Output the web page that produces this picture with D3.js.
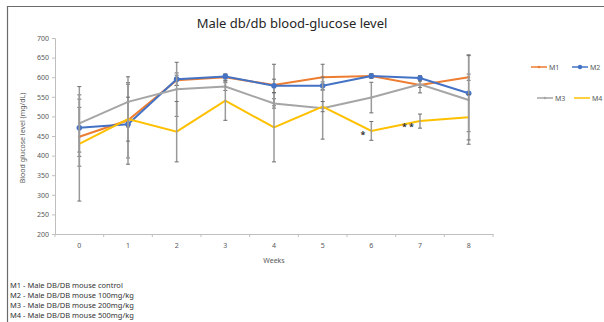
<!DOCTYPE html>
<html>
<head>
<meta charset="utf-8">
<script src="https://cdn.jsdelivr.net/npm/d3@7"></script>
<style>
  body { margin: 0; background: #fff; }
  text { font-family: "Noto Sans", "Noto Sans CJK KR", sans-serif; }
</style>
</head>
<body>
<div id="chart"></div>
<script>
// 주차별 혈당 (Male db/db)
var weeks = ["0", "1", "2", "3", "4", "5", "6", "7", "8"];
var series_names = ["M1", "M2", "M3", "M4"];
var m1_values = [448, 490, 592, 600, 580, 600, 603, 580, 600];
var m2_values = [471, 480, 595, 602, 578, 578, 603, 598, 559];
var m3_values = [482, 537, 569, 576, 533, 521, 548, 582, 542];
var m4_values = [430, 493, 461, 540, 472, 525, 463, 488, 498];
var m1_err = [75, 96, 13, 8, 53, 33, 6, 20, 8];
var m2_err = [73, 102, 16, 6, 17, 10, 5, 6, 98];
var m3_err = [73, 64, 69, 10, 12, 79, 39, 8, 113];
var m4_err = [146, 56, 77, 50, 88, 13, 24, 18, 58];
var y_ticks = [200, 250, 300, 350, 400, 450, 500, 550, 600, 650, 700];
var notes = [
    "M1 - Male DB/DB mouse control",
    "M2 - Male DB/DB mouse 100mg/kg",
    "M3 - Male DB/DB mouse 200mg/kg",
    "M4 - Male DB/DB mouse 500mg/kg"
];
var stars = [{week: "6", value: 452, text: "*"}, {week: "7", value: 474, text: "* *"}];

var colors = {"M1": "#ED7D31", "M2": "#4472C4", "M3": "#A5A5A5", "M4": "#FFC000"};

var series = [
    {name: "M1", values: m1_values, err: m1_err},
    {name: "M2", values: m2_values, err: m2_err},
    {name: "M3", values: m3_values, err: m3_err},
    {name: "M4", values: m4_values, err: m4_err}
];

var svg = d3.select("#chart").append("svg")
    .attr("width", 604)
    .attr("height", 322);

// 바깥 테두리
svg.append("path")
    .attr("d", "M7.5,322 L7.5,6.5 L604,6.5")
    .style("fill", "none")
    .style("stroke", "#6b6b6b")
    .style("stroke-width", 1.2);

svg.append("text")
    .attr("x", 292)
    .attr("y", 28)
    .attr("text-anchor", "middle")
    .style("font-size", "13px")
    .style("fill", "#262626")
    .text("Male db/db blood-glucose level");

var x_band = d3.scaleBand().domain(weeks).range([55, 493]);
var x_scale = function(w) { return x_band(w) + x_band.bandwidth() / 2; };
var y_scale = d3.scaleLinear().domain([200, 700]).range([234, 38]);

// y축
var y_axis = svg.append("g")
    .attr("transform", "translate(55,0)")
    .call(d3.axisLeft(y_scale).tickValues(y_ticks).tickSize(3).tickPadding(3));
y_axis.select(".domain").style("stroke", "#bfbfbf");
y_axis.selectAll(".tick line").style("stroke", "#bfbfbf");
y_axis.selectAll("text").style("font-size", "7px").style("fill", "#595959");

// x축
var x_axis = svg.append("g")
    .attr("transform", "translate(0,234)")
    .call(d3.axisBottom(x_band).tickSize(0).tickPadding(9));
x_axis.select(".domain").style("stroke", "#bfbfbf");
x_axis.selectAll("text").style("font-size", "7px").style("fill", "#595959");

svg.append("g").selectAll("line")
    .data(weeks.concat(["end"]))
    .enter()
    .append("line")
    .attr("x1", function(d, i) { return 55 + i * x_band.step(); })
    .attr("x2", function(d, i) { return 55 + i * x_band.step(); })
    .attr("y1", 234)
    .attr("y2", 237)
    .style("stroke", "#bfbfbf");

svg.append("text")
    .attr("x", 274)
    .attr("y", 263)
    .attr("text-anchor", "middle")
    .style("font-size", "7px")
    .style("fill", "#595959")
    .text("Weeks");

svg.append("text")
    .attr("transform", "translate(25,138) rotate(-90)")
    .attr("text-anchor", "middle")
    .style("font-size", "7px")
    .style("fill", "#595959")
    .text("Blood glucose level (mg/dL)");

var line = d3.line()
    .x(function(d, i) { return x_scale(weeks[i]); })
    .y(function(d) { return y_scale(d); });

var series_group = svg.selectAll(".series")
    .data(series)
    .enter()
    .append("g")
    .classed("series", true);

series_group.append("path")
    .attr("d", function(d) { return line(d.values); })
    .style("fill", "none")
    .style("stroke", function(d) { return colors[d.name]; })
    .style("stroke-width", 2);

// 오차 막대
series_group.each(function(s) {
    var g = d3.select(this);
    var bars = g.selectAll(".err")
        .data(s.values.map(function(v, i) { return {w: weeks[i], v: v, e: s.err[i]}; }))
        .enter()
        .append("g")
        .classed("err", true);
    bars.append("line")
        .attr("x1", function(d) { return x_scale(d.w); })
        .attr("x2", function(d) { return x_scale(d.w); })
        .attr("y1", function(d) { return y_scale(d.v + d.e); })
        .attr("y2", function(d) { return y_scale(d.v - d.e); })
        .style("stroke", "#9a9a9a")
        .style("stroke-width", 1.5);
    [1, -1].forEach(function(sign) {
        bars.append("line")
            .attr("x1", function(d) { return x_scale(d.w) - 2; })
            .attr("x2", function(d) { return x_scale(d.w) + 2; })
            .attr("y1", function(d) { return y_scale(d.v + sign * d.e); })
            .attr("y2", function(d) { return y_scale(d.v + sign * d.e); })
            .style("stroke", "#6e6e6e")
            .style("stroke-width", 1);
    });
});

// 마커
series_group.each(function(s) {
    if (s.name == "M4") return;
    d3.select(this).selectAll(".mk")
        .data(s.values)
        .enter()
        .append("circle")
        .attr("cx", function(d, i) { return x_scale(weeks[i]); })
        .attr("cy", function(d) { return y_scale(d); })
        .attr("r", s.name == "M2" ? 2.8 : 1.4)
        .style("fill", colors[s.name]);
});

svg.selectAll(".star")
    .data(stars)
    .enter()
    .append("text")
    .attr("x", function(d) { return x_scale(d.week) - 6; })
    .attr("y", function(d) { return y_scale(d.value) + 3; })
    .attr("text-anchor", "end")
    .style("font-size", "9px")
    .style("font-weight", "bold")
    .style("fill", "#333")
    .text(function(d) { return d.text; });

// 범례
var legend_pos = [[531, 67], [572, 67], [537, 98], [574, 98]];
var legend = svg.selectAll(".legend")
    .data(series_names)
    .enter()
    .append("g")
    .attr("transform", function(d, i) { return "translate(" + legend_pos[i][0] + "," + legend_pos[i][1] + ")"; });
legend.append("line")
    .attr("x1", 0).attr("x2", 16)
    .style("stroke", function(d) { return colors[d]; })
    .style("stroke-width", 1.5);
legend.append("circle")
    .attr("cx", 8)
    .attr("r", function(d) { return d == "M2" ? 2.2 : (d == "M4" ? 0 : 1.3); })
    .style("fill", function(d) { return colors[d]; });
legend.append("text")
    .attr("x", 18)
    .attr("y", 2.5)
    .style("font-size", "7px")
    .style("fill", "#595959")
    .text(function(d) { return d; });

svg.selectAll(".note")
    .data(notes)
    .enter()
    .append("text")
    .attr("x", 10)
    .attr("y", function(d, i) { return 288 + i * 10; })
    .style("font-size", "7.5px")
    .style("fill", "#333")
    .text(function(d) { return d; });
</script>
</body>
</html>
